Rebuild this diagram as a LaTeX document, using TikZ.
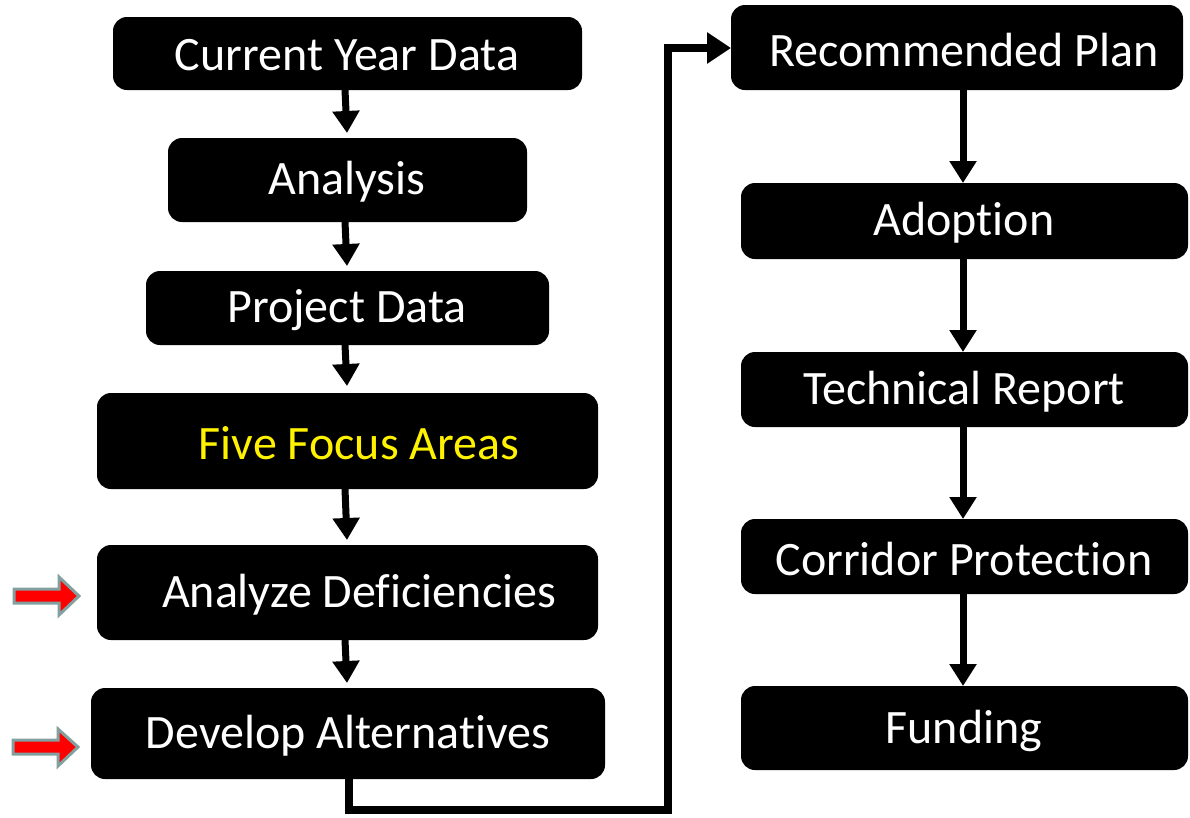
\documentclass[tikz,border=0pt]{standalone}
\usepackage{fontspec}
\setmainfont[Ligatures=NoCommon]{Carlito}
\usetikzlibrary{arrows.meta}
\definecolor{outl}{RGB}{130,160,160}
\begin{document}
\begin{tikzpicture}[x=1pt,y=-1pt,
  box/.style={fill=black,rounded corners=14pt},
  lbl/.style={text=white,font=\fontsize{48}{52}\selectfont,inner sep=0pt},
  conn/.style={line width=7pt,-{Triangle[length=22pt,width=26pt]}},
  redarrow/.style={fill=red,draw=outl,line width=3pt,line join=miter}]
\useasboundingbox (0,0) rectangle (1190,817);
% left column
\fill[box] (113,17) rectangle (582,90);
\node[lbl] (t1) at (347,55) {Current Year Data};
\fill[box] (168,138) rectangle (527,222);
\node[lbl] (t2) at (347,182) {Analysis};
\fill[box] (146,271) rectangle (549,345);
\node[lbl] (t3) at (347,310) {Project Data};
\fill[box] (97,393) rectangle (598,489);
\node[lbl,text=yellow] (t4) at (359,443) {Five Focus Areas};
\fill[box] (97,545) rectangle (598,640);
\node[lbl] (t5) at (359,595) {Analyze Deficiencies};
\fill[box] (91,688) rectangle (605,779);
\node[lbl] (t6) at (348,736) {Develop Alternatives};
% right column
\fill[box] (731,5) rectangle (1183,90);
\node[lbl] (r1) at (964,50) {Recommended Plan};
\fill[box] (741,183) rectangle (1188,259);
\node[lbl] (r2) at (964,223) {Adoption};
\fill[box] (741,352) rectangle (1188,427);
\node[lbl] (r3) at (964,392) {Technical Report};
\fill[box] (741,519) rectangle (1188,594);
\node[lbl] (r4) at (964,559) {Corridor Protection};
\fill[box] (741,686) rectangle (1188,770);
\node[lbl] (r5) at (964,731) {Funding};
% connector coordinates
\coordinate (a1s) at (345,90);  \coordinate (a1e) at (347,133);
\coordinate (a2s) at (345,222); \coordinate (a2e) at (347,266);
\coordinate (a3s) at (345,345); \coordinate (a3e) at (347,386);
\coordinate (a4s) at (345,489); \coordinate (a4e) at (347,540);
\coordinate (a5s) at (345,640); \coordinate (a5e) at (347,683);
\draw[conn] (a1s) -- (a1e);
\draw[conn] (a2s) -- (a2e);
\draw[conn] (a3s) -- (a3e);
\draw[conn] (a4s) -- (a4e);
\draw[conn] (a5s) -- (a5e);
\coordinate (bs) at (349,779);
\coordinate (be) at (731,48);
\draw[line width=8pt,-{Triangle[length=24pt,width=30pt]}] (bs) -- (349,810) -- (668,810) -- (668,48) -- (be);
\coordinate (c1s) at (963,90);  \coordinate (c1e) at (963,183);
\coordinate (c2s) at (963,259); \coordinate (c2e) at (963,352);
\coordinate (c3s) at (963,427); \coordinate (c3e) at (963,519);
\coordinate (c4s) at (963,594); \coordinate (c4e) at (963,686);
\draw[conn] (c1s) -- (c1e);
\draw[conn] (c2s) -- (c2e);
\draw[conn] (c3s) -- (c3e);
\draw[conn] (c4s) -- (c4e);
% red arrows
\draw[redarrow] (14,589) -- (59,589) -- (59,577) -- (79,596) -- (59,615) -- (59,603) -- (14,603) -- cycle;
\draw[redarrow] (13,740) -- (58,740) -- (58,729) -- (78,747) -- (58,766) -- (58,754) -- (13,754) -- cycle;
\end{tikzpicture}
\end{document}
